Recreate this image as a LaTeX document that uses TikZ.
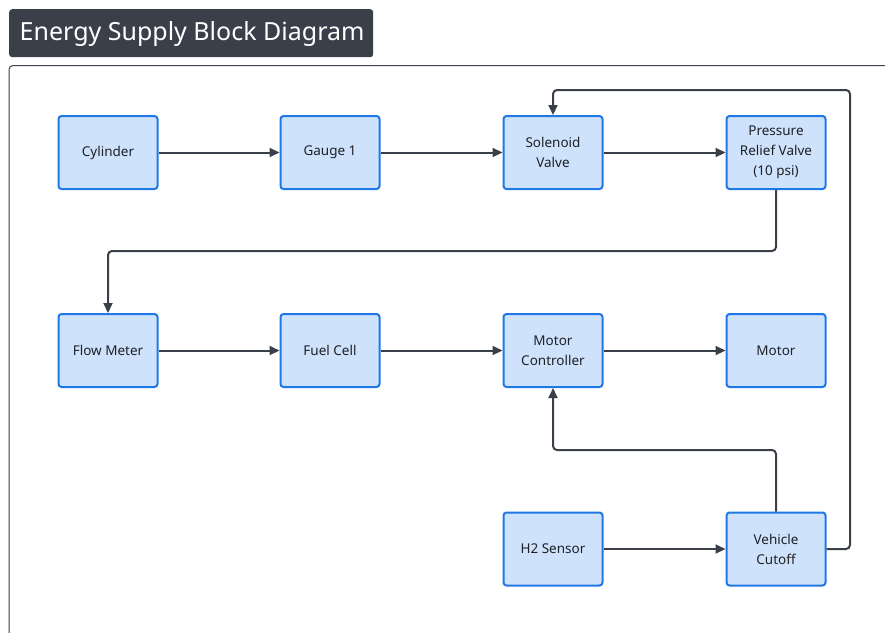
\documentclass[tikz,border=0pt]{standalone}
\usepackage{fontspec}
\setmainfont{Noto Sans}
\usetikzlibrary{arrows.meta,positioning}

\definecolor{titlebg}{HTML}{3A3F4A}
\definecolor{framecol}{HTML}{3A3F4A}
\definecolor{boxfill}{HTML}{CFE2FC}
\definecolor{boxline}{HTML}{1F78E6}
\definecolor{wirecol}{HTML}{3A3F4A}
\definecolor{txtcol}{HTML}{1E2126}

\tikzset{
  block/.style={draw=boxline, fill=boxfill, line width=2pt, rounded corners=3pt,
    minimum width=99pt, minimum height=73pt, inner sep=2pt, align=center,
    text=txtcol, font=\fontsize{13.5}{20}\selectfont},
  wire/.style={draw=wirecol, line width=2pt, rounded corners=4pt,
    -{Triangle[length=10pt,width=9pt]}},
}

\begin{document}
\begin{tikzpicture}[x=1pt,y=-1pt]
  \useasboundingbox (0,0) rectangle (885,632);
  \clip (0,0) rectangle (885,632);

  % heading tab
  \node[fill=titlebg, rounded corners=3pt, minimum width=364pt, minimum height=48pt,
        anchor=north west, inner sep=0pt] (title) at (9,9) {};
  \node[anchor=west, text=white, font=\fontsize{25}{30}\selectfont, inner sep=0pt]
        (titletext) at (19.5,34) {Energy Supply Block Diagram};

  % panel outline
  \draw[framecol, line width=1pt, rounded corners=4pt]
        (9,700) -- (9,65.5) -- (950,65.5);

  % row 1
  \node[block] (cyl) at (108,152.5) {Cylinder};
  \node[block] (g1)  at (330,152.5) {Gauge 1};
  \node[block] (sv)  at (553,152.5) {Solenoid\\Valve};
  \node[block] (prv) at (776,152.5) {Pressure\\Relief Valve\\(10 psi)};
  % row 2
  \node[block] (fm)  at (108,350.5) {Flow Meter};
  \node[block] (fc)  at (330,350.5) {Fuel Cell};
  \node[block] (mc)  at (553,350.5) {Motor\\Controller};
  \node[block] (mot) at (776,350.5) {Motor};
  % row 3
  \node[block] (h2)  at (553,549) {H2 Sensor};
  \node[block] (vc)  at (776,549) {Vehicle\\Cutoff};

  % routing points
  \coordinate (bendA) at (0,251);
  \coordinate (bendB) at (0,450);
  \coordinate (railR) at (850,0);
  \coordinate (railT) at (0,90);

  % straight links
  \draw[wire] (cyl) -- (g1);
  \draw[wire] (g1) -- (sv);
  \draw[wire] (sv) -- (prv);
  \draw[wire] (fm) -- (fc);
  \draw[wire] (fc) -- (mc);
  \draw[wire] (mc) -- (mot);
  \draw[wire] (h2) -- (vc);

  % routed links
  \draw[wire] (prv.south) -- (prv.south |- bendA) -| (fm.north);
  \draw[wire] (vc.north) -- (vc.north |- bendB) -| (mc.south);
  \draw[wire] (vc.east) -- (vc.east -| railR) -- (railR |- railT) -| (sv.north);
\end{tikzpicture}
\end{document}
